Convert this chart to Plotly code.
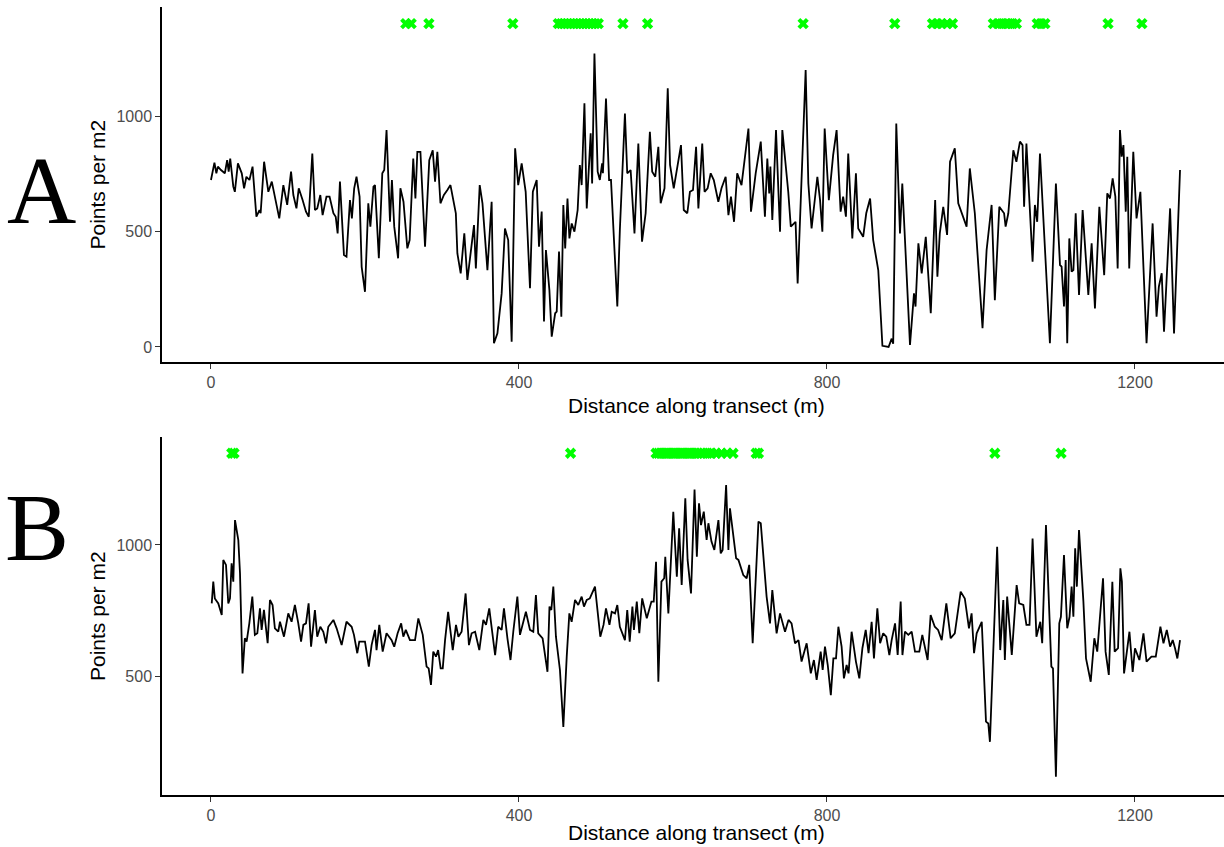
import plotly.graph_objects as go

# ---------------- Panel A data ----------------
A_dist = [0, 4.5, 7, 9, 13, 18, 21, 23, 25, 29, 31, 35, 40, 43, 46, 50, 54, 59, 63, 64.5, 69, 74.5, 79, 83, 88.7, 94, 99, 104, 107, 111,
          114, 119, 123.4, 127, 131.6, 135, 138, 142, 145, 150, 154, 159, 162, 164.5, 167.5, 172.7, 176, 180.5, 183, 186, 189, 193, 195.7, 200,
          204.3, 207, 211, 213, 218, 222.5, 225, 228, 232.5, 235, 238, 243, 246, 250, 255, 258, 262.7, 265.5, 268, 272, 278, 283.5, 288, 291,
          294, 298, 302.5, 307, 311, 318, 320, 324.3, 329, 333, 337, 341.6, 344, 349, 352.6, 359, 364.5, 367.5, 372, 377.5, 381.8, 386, 390.5,
          395, 399, 403.5, 408.7, 414.3,
          418, 423, 426, 429.5, 432.5, 435, 439.5, 442.5, 447, 449, 452, 455, 457.6, 460, 463, 465.5, 468.5, 472, 476.2, 479, 481.4, 485, 488,
          493.1, 495, 498, 502.2, 505, 508, 509, 513, 517, 519.5, 527.7, 531, 537.6, 540.6, 545, 550, 555, 559.8, 564.5, 570, 573, 577, 581,
          584, 589, 593.2, 596.2, 601, 610.4, 614, 618.6, 622, 626, 630, 633, 638, 641, 645, 649, 653, 658.9, 663, 668.4, 672, 675.3, 679.3,
          683.4, 689, 698, 701.3, 707.4, 714, 719.4, 722.5, 725, 726.5, 729, 733.8, 739, 742, 749.7, 753, 759.2, 761.9, 772.3, 775.8, 780,
          787.5, 791, 794, 797, 802.4, 808, 812.5, 817.7, 821, 824.6, 827.6, 832.9, 837.6, 840.6, 847, 851, 856,
          860, 866.6, 872, 880, 884, 886, 890, 894.8, 897.8, 907.8, 913, 915, 918.7, 923, 928.3, 934.8, 940.5, 943.4, 946.5, 951, 956, 959.8,
          966, 970.5, 981.3, 985.5, 992, 1002, 1007.3, 1013.8, 1018, 1023.8, 1030, 1032, 1035.5, 1042, 1046, 1050.6, 1054, 1056, 1059, 1067,
          1070, 1073, 1076.6, 1089.5, 1097.3, 1102.6, 1104.7, 1107.8, 1110, 1112, 1114.7, 1117.7, 1120, 1123, 1127.3, 1132, 1139.4, 1143.7,
          1148, 1153.7, 1160, 1164, 1167.5, 1171, 1174.5, 1177.5, 1180.5, 1182.7, 1185, 1188, 1190, 1192.5, 1197.8, 1202, 1207, 1215, 1222.9,
          1228, 1231, 1234.7, 1237.7, 1245.6, 1250.7, 1258.5]
A_val = [723, 798, 752, 781, 766, 752, 809, 759, 816, 694, 672, 795, 752, 687, 737, 723, 781, 564, 593, 579, 802, 672, 716, 643, 557, 701, 615, 759, 658, 600,
         687, 636, 586, 564, 838, 593, 600, 658, 571, 651, 651, 579, 564, 492, 716, 398, 391, 636, 557, 687, 737, 651, 347, 239,
         622, 521, 694, 701, 384, 752, 766, 939, 542, 723, 521, 384, 687, 629, 427, 463, 816, 643, 845, 845, 434, 809, 852, 716,
         845, 622, 658, 680, 701, 579, 405, 319, 492, 290, 391, 528, 340, 701, 622, 333, 629, 16, 59, 232, 513, 463, 23,
         860, 701, 795, 672, 254,
         672, 723, 434, 586, 110, 420, 247, 45, 146, 153, 413, 131, 615, 427, 643, 470, 535, 499, 593, 788, 701, 1055, 600,
         925, 708, 1271, 759, 723, 795, 752, 1076, 723, 723, 175, 506, 1011, 752, 766, 492, 881, 456, 579, 932, 759, 737, 867,
         622, 687, 1120, 788, 687, 874, 593, 579, 672, 680, 867, 600, 881, 672, 687, 752, 723, 629, 687, 737, 571, 651, 542,
         752, 701, 946, 586, 752, 889, 564, 816, 665, 781, 550, 939, 499, 939, 672, 521, 542, 275, 1199, 708, 513,
         737, 636, 499, 946, 636, 831, 939, 586, 651, 564, 838, 470, 752, 513, 477, 579, 643,
         463, 333, 5, 0, 36, 14, 968, 492, 708, 9, 232, 175, 449, 319, 477, 146, 636, 304, 492, 607, 485, 802,
         860, 622, 521, 773, 579, 81, 420, 615, 203, 607, 579, 521, 579, 852, 802, 889, 874, 607, 881, 369,
         615, 542, 838, 16, 708, 355, 348, 175, 376, 16, 470, 326, 333, 579, 225, 593, 225, 449,
         167, 607, 311, 665, 643, 730, 651, 340, 939, 824, 874, 586, 824, 340, 845, 557, 672, 16, 535,
         131, 261, 319, 66, 600, 59, 766]
A_marker_dist = [253, 260, 283, 392, 451, 455, 459, 463, 467, 471, 475, 479, 483, 487, 491, 495, 499, 503, 535, 567,
                 769, 888, 937, 943, 949, 956, 963, 1016, 1022, 1027, 1032, 1036, 1041, 1046, 1073, 1078, 1083, 1165, 1209]
A_marker_level = 1400

# ---------------- Panel B data ----------------
B_dist = [1, 3, 5, 9.5, 14, 16, 19.5, 22.5, 24.7, 26.8, 29, 31.2, 35.5, 37.7, 41, 44, 46.3, 49.8, 53.7, 57, 60.2, 63.6, 65.8, 68.8, 73.6,
          76.6, 80, 83, 87.4, 89.6, 94.8, 100.4, 104.7, 109, 113.4, 117, 120, 123.4, 126.8, 130, 135, 138, 142, 145.9, 149.4, 152.4, 159,
          163.2, 169.7, 176, 182.7, 185.7, 190, 192.6, 200, 205, 208.6, 213, 215, 218.6, 223, 228, 234.6, 238, 242.4, 247, 249.8, 253,
          258.4, 265, 269.3, 275, 280, 282.7, 285.7, 288.7, 292.2, 295, 298.3, 301, 304, 308, 314, 318.2, 321.3, 325.5, 330.7, 335, 338.5,
          343, 348.5, 353.7, 357.2, 361.4, 369, 373, 377.5, 380.5, 385, 389, 392.6, 397.9, 401.3, 405.6, 409, 414.3, 418.6, 422,
          425, 430.7, 437, 439.6, 442, 444.6, 448, 453.2, 457.6, 462, 465.4, 468.4, 472.8, 477, 481.4, 484.4, 488, 492, 498.7, 505.6,
          509.8, 513, 517.5, 520.4, 524.7, 527.7, 531, 537.6, 540.6, 543.8, 547.3, 549.3, 553, 556.3, 560, 566, 572, 575, 578, 581, 585,
          588.6, 590, 594, 600.4, 605, 608, 611.3, 616, 619, 623.4, 628, 631, 633.8, 636.4, 640, 643.7, 646, 650, 653.7, 659, 662, 664.5,
          669, 672, 674, 682, 685, 691.3, 695.7, 699, 703.5, 711, 714, 721.6, 726, 729, 734.6, 739, 745.5, 750, 754, 758.5, 763, 767,
          773.6, 779, 783, 786.6, 791.8, 794.4, 797.4, 801, 805, 808.3, 811.7, 814.8, 819, 822, 825.5, 828, 832, 837.6, 842, 846, 850.3,
          854,
          858, 861, 865.4, 869, 873, 877, 881, 884, 888.4, 891.8, 895.7, 898, 901.3, 905.6, 910, 914.3, 919.9, 923.8, 930.7, 934.6, 940,
          944.3, 949, 955, 960.6, 966, 973.6, 979, 984.4, 987.8, 991, 994.4, 1001, 1006.5, 1009.5, 1011.6, 1021, 1025, 1029, 1031, 1034,
          1040, 1046.3, 1049.6, 1055, 1059, 1063, 1067, 1072, 1077, 1079.5, 1084.4, 1091.4, 1093.5, 1097.3, 1101.7, 1103.8, 1107.8, 1112,
          1115, 1117.7, 1120, 1122.3, 1124.5, 1127.3, 1133, 1136.4, 1142.5, 1147.2, 1151, 1158.5, 1161.8, 1166, 1170.6, 1173.6, 1178,
          1181, 1183, 1185.8, 1192.8, 1197, 1200, 1205.7, 1211, 1215, 1221.4, 1227, 1233, 1237, 1241.3, 1245.6, 1249, 1252, 1255, 1258.5]
B_val = [777, 860, 796, 777, 733, 943, 924, 777, 796, 930, 860, 1095, 1019, 892, 510, 644, 631, 701, 803, 657, 663, 758, 676, 752, 625,
         790, 771, 682, 669, 707, 650, 739, 707, 771, 701, 631, 695, 701, 777, 612, 752, 650, 688, 669, 625, 688, 714,
         682, 618, 707, 688, 657, 587, 631, 631, 536, 618, 676, 599, 695, 593, 663, 637, 612, 663, 701, 650, 676,
         637, 637, 720, 657, 536, 529, 466, 593, 574, 599, 529, 529, 637, 745, 599, 695, 650, 669, 815, 618, 663,
         669, 599, 714, 695, 758, 580, 688, 676, 758, 644, 561, 669, 803, 657, 701, 745, 676, 669, 809,
         663, 644, 516, 765, 752, 841, 650, 523, 306, 574, 739, 707, 790, 771, 803, 765, 790, 796, 841, 650,
         695, 758, 695, 745, 739, 771, 688, 637, 752, 631, 765, 676, 784, 663, 796, 720, 784, 784, 936, 478, 860,
         873, 955, 739, 1127, 879, 1064, 847, 1178, 943, 815, 1212, 955, 1159, 1076, 1127, 1019, 1083, 1013, 981, 1095, 968, 981,
         1229, 981, 1140, 949, 943, 885, 873, 924, 625, 1089, 1083, 803, 701, 828, 663, 739, 669, 714, 701, 625, 637, 555,
         625, 510, 561, 485, 593, 523, 612, 542, 427, 567, 567, 688, 612, 491, 542, 510, 669, 555, 491, 606, 676,
         587,
         707, 567, 758, 625, 663, 650, 580, 637, 701, 580, 784, 580, 669, 657, 669, 593, 593, 657, 561, 733, 688,
         676, 637, 777, 644, 663, 822, 796, 682, 739, 587, 663, 707, 326, 319, 249, 993, 599, 790, 561, 803,
         580, 847, 777, 771, 695, 695, 1025, 650, 707, 625, 1076, 536, 529, 116, 701, 726, 962, 682,
         726, 841, 726, 987, 841, 1057, 784, 567, 478, 644, 593, 873, 593, 504, 860, 593, 606,
         911, 860, 510, 669, 516, 606, 561, 663, 555, 574, 574, 688, 625, 676, 612, 637, 606, 567, 637]
B_marker_dist = [27, 30, 467, 578, 581, 584, 587, 590, 593, 596, 599, 602, 605, 608, 611, 614, 617, 620, 623, 626, 629, 632,
                 636, 640, 645, 650, 656, 663, 670, 678, 708, 711, 1018, 1104]
B_marker_level = 1350

x_ticks = [0, 400, 800, 1200]
A_y_ticks = [0, 500, 1000]
B_y_ticks = [500, 1000]

W, H = 1224, 847
# plot-area pixel boxes (left, top, right, bottom)
A_box = (162, 7, 1224, 362)
B_box = (162, 437, 1224, 795)


def dom_x(box):
    return [box[0] / W, box[2] / W]


def dom_y(box):
    return [1 - box[3] / H, 1 - box[1] / H]


fig = go.Figure()
line_style = dict(color="black", width=1.8)
marker_style = dict(symbol="x", size=10, color="#00ff00", line=dict(width=0))

fig.add_trace(go.Scatter(x=A_dist, y=A_val, mode="lines", line=line_style, xaxis="x", yaxis="y", showlegend=False))
fig.add_trace(go.Scatter(x=A_marker_dist, y=[A_marker_level] * len(A_marker_dist), mode="markers",
                         marker=marker_style, xaxis="x", yaxis="y", showlegend=False))
fig.add_trace(go.Scatter(x=B_dist, y=B_val, mode="lines", line=line_style, xaxis="x2", yaxis="y2", showlegend=False))
fig.add_trace(go.Scatter(x=B_marker_dist, y=[B_marker_level] * len(B_marker_dist), mode="markers",
                         marker=marker_style, xaxis="x2", yaxis="y2", showlegend=False))

tickfont = dict(family="Liberation Sans, Arial, sans-serif", size=16, color="#4d4d4d")
common_x = dict(range=[-63.6, 1315.6], tickvals=x_ticks, showgrid=False, zeroline=False, showline=True,
                linecolor="black", linewidth=1.5, ticks="outside", ticklen=5, tickcolor="#333333", tickwidth=1.2,
                tickfont=tickfont)
common_y = dict(showgrid=False, zeroline=False, showline=True, linecolor="black", linewidth=1.5,
                ticks="outside", ticklen=5, tickcolor="#333333", tickwidth=1.2, tickfont=tickfont)

fig.update_layout(
    width=W, height=H, margin=dict(l=0, r=0, t=0, b=0),
    paper_bgcolor="white", plot_bgcolor="white",
    xaxis=dict(domain=dom_x(A_box), anchor="y", **common_x),
    yaxis=dict(domain=dom_y(A_box), anchor="x", range=[-65, 1472], tickvals=A_y_ticks, **common_y),
    xaxis2=dict(domain=dom_x(B_box), anchor="y2", **common_x),
    yaxis2=dict(domain=dom_y(B_box), anchor="x2", range=[46, 1412], tickvals=B_y_ticks, **common_y),
)

title_font = dict(family="Liberation Sans, Arial, sans-serif", size=21, color="black")
label_font = dict(family="Liberation Serif, Times New Roman, serif", size=96, color="black")


def px(xp, yp):
    return xp / W, 1 - yp / H


annots = []
for box, xt_y, letter, letter_pos in [(A_box, 406, "A", (41, 190)), (B_box, 832, "B", (37, 527))]:
    cx = (box[0] + box[2]) / 2
    cy = (box[1] + box[3]) / 2
    ax, ay = px(696, xt_y)
    annots.append(dict(text="Distance along transect (m)", x=ax, y=ay, xref="paper", yref="paper",
                       showarrow=False, font=title_font, xanchor="center", yanchor="middle"))
    bx, by = px(97, cy)
    annots.append(dict(text="Points per m2", x=bx, y=by, xref="paper", yref="paper", textangle=-90,
                       showarrow=False, font=title_font, xanchor="center", yanchor="middle"))
    lx, ly = px(*letter_pos)
    annots.append(dict(text=letter, x=lx, y=ly, xref="paper", yref="paper",
                       showarrow=False, font=label_font, xanchor="center", yanchor="middle"))
fig.update_layout(annotations=annots)

fig.write_html("out.html")
